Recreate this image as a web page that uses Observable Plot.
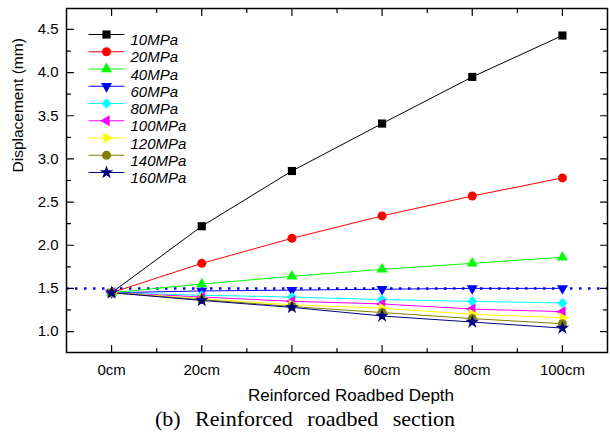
<!DOCTYPE html>
<html>
<head>
<meta charset="utf-8">
<script src="https://cdn.jsdelivr.net/npm/d3@7"></script>
<script src="https://cdn.jsdelivr.net/npm/@observablehq/plot@0.6"></script>
<style>
  html, body { margin: 0; padding: 0; background: #fff; }
  #chart svg { display: block; font-family: "Liberation Sans", Arial, sans-serif; }
  #caption { font-family: "Liberation Serif", "DejaVu Serif", serif; font-size: 22px; text-align: center; width: 610px; word-spacing: 9px; line-height: 30px; padding-left: 0px; box-sizing: border-box; }
</style>
</head>
<body>
<div id="chart"></div>
<div id="caption">(b) Reinforced roadbed section</div>
<script>
// ---- data ----
const depths = [0, 20, 40, 60, 80, 100];
const depthLabels = ["0cm", "20cm", "40cm", "60cm", "80cm", "100cm"];
const yTicks = [1.0, 1.5, 2.0, 2.5, 3.0, 3.5, 4.0, 4.5];
const seriesNames = ["10MPa", "20MPa", "40MPa", "60MPa", "80MPa", "100MPa", "120MPa", "140MPa", "160MPa"];
const s10  = [1.45, 2.22, 2.86, 3.41, 3.95, 4.43];
const s20  = [1.45, 1.79, 2.08, 2.34, 2.57, 2.78];
const s40  = [1.45, 1.55, 1.64, 1.72, 1.79, 1.86];
const s60  = [1.45, 1.47, 1.48, 1.49, 1.50, 1.50];
const s80  = [1.45, 1.42, 1.40, 1.37, 1.35, 1.33];
const s100 = [1.45, 1.40, 1.35, 1.32, 1.26, 1.23];
const s120 = [1.45, 1.38, 1.31, 1.27, 1.20, 1.16];
const s140 = [1.45, 1.37, 1.29, 1.22, 1.15, 1.09];
const s160 = [1.45, 1.36, 1.28, 1.18, 1.11, 1.04];
const referenceLine = [1.5];
const seriesValues = [s10, s20, s40, s60, s80, s100, s120, s140, s160];
const colors = ["#000000", "#ff0000", "#00ff00", "#0000ff", "#00ffff", "#ff00ff", "#ffff00", "#808000", "#000080"];

// ---- custom triangle symbols ----
const sqrt3 = Math.sqrt(3);
function tri(dir) {
  return {
    draw(context, size) {
      const y = -Math.sqrt(size / (sqrt3 * 3));
      const pts = [[0, y * 2], [-sqrt3 * y, -y], [sqrt3 * y, -y]];
      const t = pts.map(([a, b]) => dir === "up" ? [a, b] : dir === "down" ? [a, -b] : dir === "left" ? [b, a] : [-b, a]);
      context.moveTo(t[0][0], t[0][1]);
      context.lineTo(t[1][0], t[1][1]);
      context.lineTo(t[2][0], t[2][1]);
      context.closePath();
    }
  };
}
const symbols = ["square", "circle", tri("up"), tri("down"), "diamond2", tri("left"), tri("right"), "circle", "star"];
const radii = [4.6, 4.5, 4.1, 4.1, 4.6, 4.1, 4.1, 4.5, 4.3];

const rows = seriesNames.flatMap((name, i) => depths.map((d, j) => ({series: name, idx: i, depth: d, value: seriesValues[i][j]})));

const minorX = [10, 30, 50, 70, 90];
const minorY = [1.25, 1.75, 2.25, 2.75, 3.25, 3.75, 4.25];
const majLen = 7, minLen = 4;
const shp = (dx, dy) => ({draw(ctx, l) { ctx.moveTo(0, 0); ctx.lineTo(dx * l, dy * l); }});
const hseg = {draw(ctx, l) { ctx.moveTo(-l / 2, 0); ctx.lineTo(l / 2, 0); }};

const marks = [];
// reference dotted line
marks.push(Plot.ruleY(referenceLine, {stroke: "#0000ff", strokeWidth: 2.5, strokeDasharray: "2.5,6.5"}));
// series lines
seriesNames.forEach((name, i) => {
  marks.push(Plot.line(rows.filter(r => r.idx === i), {x: "depth", y: "value", stroke: colors[i], strokeWidth: 1}));
});
// series markers
seriesNames.forEach((name, i) => {
  marks.push(Plot.dot(rows.filter(r => r.idx === i), {x: "depth", y: "value", symbol: symbols[i], r: radii[i], fill: colors[i], stroke: "none"}));
});
// legend
seriesNames.forEach((name, i) => {
  const dy = 26 + i * 17.25;
  marks.push(Plot.vector([name], {frameAnchor: "top-left", dx: 40, dy, length: 35, shape: hseg, anchor: "start", stroke: colors[i], strokeWidth: 1}));
  marks.push(Plot.dot([name], {frameAnchor: "top-left", dx: 40, dy, symbol: symbols[i], r: radii[i], fill: colors[i], stroke: "none"}));
  marks.push(Plot.text([name], {frameAnchor: "top-left", dx: 64, dy, text: d => d, textAnchor: "start", fontStyle: "italic", fontSize: 15, fill: "black"}));
});
// ticks (inward, all four sides)
marks.push(Plot.vector(depths, {x: d => d, frameAnchor: "bottom", length: majLen, shape: shp(0, -1), anchor: "start", stroke: "black", strokeWidth: 1.2}));
marks.push(Plot.vector(minorX, {x: d => d, frameAnchor: "bottom", length: minLen, shape: shp(0, -1), anchor: "start", stroke: "black", strokeWidth: 1.2}));
marks.push(Plot.vector(depths, {x: d => d, frameAnchor: "top", length: majLen, shape: shp(0, 1), anchor: "start", stroke: "black", strokeWidth: 1.2}));
marks.push(Plot.vector(minorX, {x: d => d, frameAnchor: "top", length: minLen, shape: shp(0, 1), anchor: "start", stroke: "black", strokeWidth: 1.2}));
marks.push(Plot.vector(yTicks, {y: d => d, frameAnchor: "left", length: majLen, shape: shp(1, 0), anchor: "start", stroke: "black", strokeWidth: 1.2}));
marks.push(Plot.vector(minorY, {y: d => d, frameAnchor: "left", length: minLen, shape: shp(1, 0), anchor: "start", stroke: "black", strokeWidth: 1.2}));
marks.push(Plot.vector(yTicks, {y: d => d, frameAnchor: "right", length: majLen, shape: shp(-1, 0), anchor: "start", stroke: "black", strokeWidth: 1.2}));
marks.push(Plot.vector(minorY, {y: d => d, frameAnchor: "right", length: minLen, shape: shp(-1, 0), anchor: "start", stroke: "black", strokeWidth: 1.2}));
// axes labels
marks.push(Plot.axisX(depths, {tickSize: 0, tickPadding: 12, tickFormat: (d) => depthLabels[depths.indexOf(d)], fontSize: 15, label: null}));
marks.push(Plot.axisY(yTicks, {tickSize: 0, tickPadding: 8, tickFormat: d3.format(".1f"), fontSize: 15, label: null}));
marks.push(Plot.text(["Reinforced Roadbed Depth"], {frameAnchor: "bottom", dy: 48, dx: 14, text: d => d, lineAnchor: "bottom", fontSize: 17, fill: "black"}));
marks.push(Plot.text(["Displacement (mm)"], {frameAnchor: "left", dx: -48, dy: -8, rotate: -90, text: d => d, fontSize: 15.5, fill: "black"}));
marks.push(Plot.frame({stroke: "black", strokeWidth: 1.5}));

const chart = Plot.plot({
  width: 610,
  height: 404,
  marginTop: 8,
  marginLeft: 66,
  marginRight: 3,
  marginBottom: 52,
  x: {domain: [-10, 110]},
  y: {domain: [0.757, 4.743]},
  style: {background: "white", color: "black", overflow: "visible"},
  marks
});
document.getElementById("chart").appendChild(chart);
</script>
</body>
</html>
